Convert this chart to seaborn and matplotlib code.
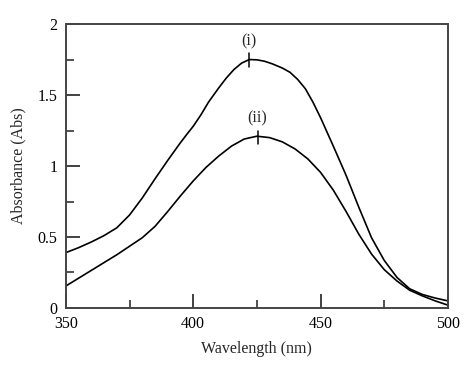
import matplotlib
matplotlib.use("Agg")
import matplotlib.pyplot as plt
import seaborn as sns
import pandas as pd
from matplotlib.ticker import MultipleLocator, FuncFormatter

wl_i = [350, 355, 360, 365, 370, 375, 380, 385, 390, 395, 398, 400, 403, 406, 410, 413, 416, 419, 422,
        425, 428, 431, 435, 438, 441, 444, 447, 450, 455, 460, 465, 470, 475, 480, 485, 490, 495, 500]
abs_i = [0.39, 0.425, 0.465, 0.51, 0.565, 0.655, 0.775, 0.91, 1.04, 1.165, 1.235, 1.28, 1.36, 1.45, 1.55,
         1.62, 1.68, 1.725, 1.75, 1.748, 1.738, 1.72, 1.69, 1.66, 1.61, 1.545, 1.45, 1.34, 1.14, 0.935,
         0.71, 0.495, 0.335, 0.215, 0.135, 0.095, 0.07, 0.05]

wl_ii = [350, 355, 360, 365, 370, 375, 380, 385, 390, 395, 400, 405, 410, 415, 420, 425, 430, 435,
         440, 445, 450, 455, 460, 465, 470, 475, 480, 485, 490, 495, 500]
abs_ii = [0.155, 0.21, 0.265, 0.32, 0.375, 0.435, 0.495, 0.575, 0.68, 0.79, 0.895, 0.99, 1.07, 1.14,
          1.19, 1.21, 1.2, 1.17, 1.12, 1.05, 0.955, 0.83, 0.68, 0.52, 0.38, 0.27, 0.19, 0.125, 0.085,
          0.05, 0.02]

peak_labels = ["(i)", "(ii)"]
peak_wl = [422, 425.5]
peak_abs = [1.75, 1.205]

sns.set_style("ticks")
plt.rcParams['font.family'] = ['Liberation Serif', 'DejaVu Serif']

df = pd.concat([
    pd.DataFrame({"Wavelength": wl_i, "Abs": abs_i, "s": "(i)"}),
    pd.DataFrame({"Wavelength": wl_ii, "Abs": abs_ii, "s": "(ii)"}),
])

fig = plt.figure(figsize=(4.74, 3.70), dpi=100)
ax = fig.add_axes([0.139, 0.1676, 0.806, 0.7674])
sns.lineplot(data=df, x="Wavelength", y="Abs", units="s", estimator=None,
             color="black", linewidth=1.2, ax=ax, legend=False, sort=False)

for lab, x, y in zip(peak_labels, peak_wl, peak_abs):
    ax.plot([x, x], [y - 0.05, y + 0.045], color="black", linewidth=1.1)
    ax.text(x - 0.3, y + 0.075, lab, ha="center", va="bottom", fontsize=11.5)

ax.set_xlim(350, 500)
ax.set_ylim(0, 2)
ax.xaxis.set_major_locator(MultipleLocator(50))
ax.xaxis.set_minor_locator(MultipleLocator(25))
ax.yaxis.set_major_locator(MultipleLocator(0.5))
ax.yaxis.set_minor_locator(MultipleLocator(0.25))
ax.yaxis.set_major_formatter(FuncFormatter(lambda v, p: f"{v:g}"))
ax.tick_params(which="both", direction="in", top=False, right=False,
               colors="#333333", labelcolor="black", labelsize=11.5)
ax.tick_params(which="major", length=10, width=1.3, pad=6)
ax.tick_params(which="minor", length=5.5, width=1.2)
for sp in ax.spines.values():
    sp.set_color("#444444")
    sp.set_linewidth(1.4)
ax.set_xlabel("Wavelength (nm)", fontsize=11.5, labelpad=6)
ax.set_ylabel("Absorbance (Abs)", fontsize=11.5, labelpad=8)

fig.savefig("out.png", dpi=100)
